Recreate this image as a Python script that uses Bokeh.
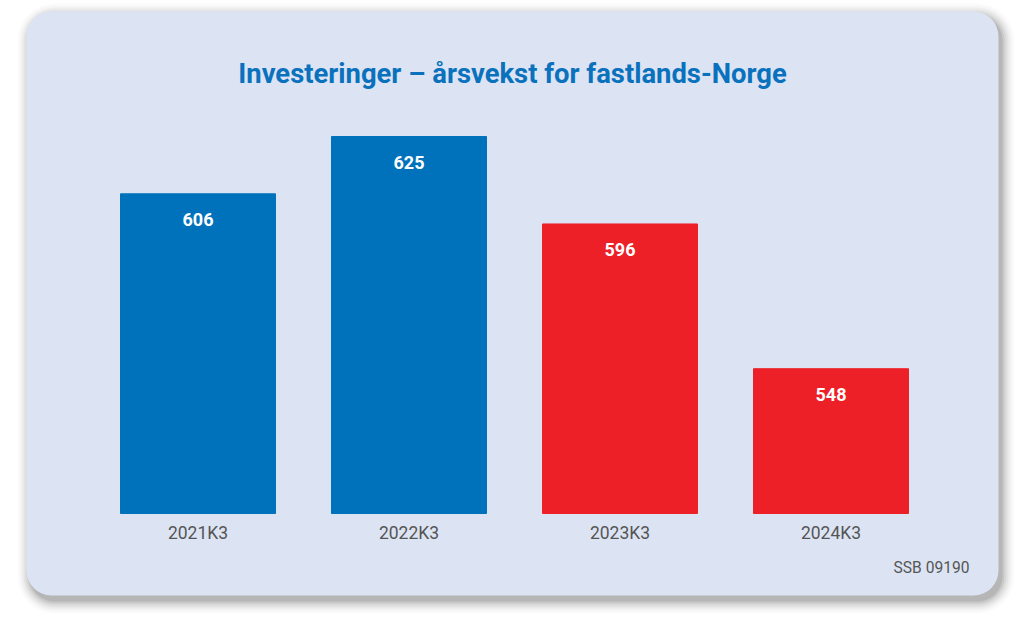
from bokeh.plotting import figure
from bokeh.models import BoxAnnotation, Range1d, ColumnDataSource
from bokeh.core.properties import value
from bokeh.embed import file_html
from bokeh.resources import INLINE

# ---- data ----
categories = ["2021K3", "2022K3", "2023K3", "2024K3"]
values = [606, 625, 596, 548]
bar_colors = ["#0072bc", "#0072bc", "#ed1f27", "#ed1f27"]
title_text = "Investeringer \u2013 årsvekst for fastlands-Norge"
source_text = "SSB 09190"
baseline = 500

W, H = 1024, 628
# pixel <-> data helpers (layout only)
X0, XS = 197.5, 211.0          # pixel centre of first bar, pixel step
Y0, YS = 513.0, 3.016          # pixel of baseline, pixels per unit
def px(x):
    return (x - X0) / XS
def py(y):
    return baseline + (Y0 - y) / YS

p = figure(width=W, height=H, output_backend="svg", toolbar_location=None,
           x_axis_location=None, y_axis_location=None,
           x_range=Range1d(px(0), px(W)), y_range=Range1d(py(H), py(0)),
           min_border=0, min_border_left=0, min_border_right=0,
           min_border_top=0, min_border_bottom=0)
p.outline_line_color = None
p.background_fill_color = "white"
p.border_fill_color = "white"
p.xgrid.visible = False
p.ygrid.visible = False

# card shadow (layered, soft)
L, R, T, B = 26, 998, 11, 595
layers = [(12, 0.015), (10, 0.02), (8, 0.03), (6, 0.04), (4, 0.05), (2, 0.07), (0, 0.09)]
for grow, a in layers:
    p.add_layout(BoxAnnotation(left=px(L + 3 - grow), right=px(R + 4 + grow),
                               top=py(T + 4 - grow), bottom=py(B + 6 + grow),
                               fill_color="#000000", fill_alpha=a, line_color=None,
                               border_radius=25 + grow, level="underlay"))
# card
p.add_layout(BoxAnnotation(left=px(L), right=px(R), top=py(T), bottom=py(B),
                           fill_color="#dce4f4", fill_alpha=1.0, line_color=None,
                           border_radius=25, level="underlay"))

idx = list(range(len(categories)))
src = ColumnDataSource(dict(x=idx, top=values, color=bar_colors, cat=categories,
                            lab=[str(v) for v in values]))
p.vbar(x="x", top="top", bottom=baseline, width=155 / XS, color="color", source=src)

p.text(x="x", y="top", text="lab", source=src, text_color="white",
       text_font=value("Roboto"), text_font_style="bold", text_font_size="18px",
       text_align="center", text_baseline="middle", y_offset=26)

p.text(x="x", y=baseline, text="cat", source=src, text_color="#555555",
       text_font=value("Roboto"), text_font_size="17.5px",
       text_align="center", text_baseline="middle", y_offset=19)

p.text(x=[px(512)], y=[py(73)], text=[title_text], text_color="#0a71bd",
       text_font=value("Roboto"), text_font_style="bold", text_font_size="27.4px",
       text_align="center", text_baseline="middle")

p.text(x=[px(969)], y=[py(567)], text=[source_text], text_color="#555555",
       text_font=value("Roboto"), text_font_size="15.6px",
       text_align="right", text_baseline="middle")

open("out.html", "w").write(file_html(p, INLINE))
